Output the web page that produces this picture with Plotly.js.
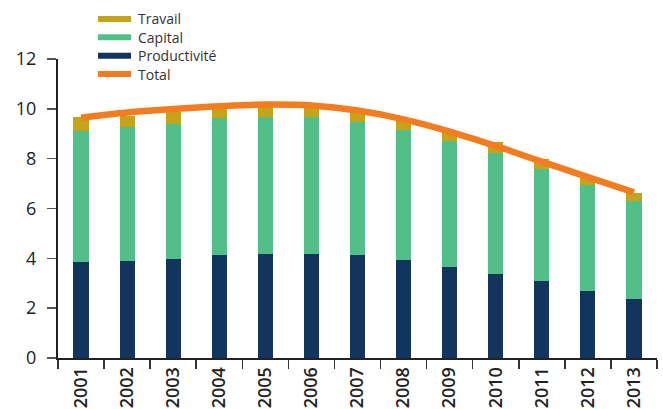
<!DOCTYPE html>
<html><head><meta charset="utf-8">
<script src="https://cdn.plot.ly/plotly-3.0.1.min.js"></script>
<style>html,body{margin:0;padding:0;background:#fff}#chart{width:663px;height:409px}</style>
</head><body><div id="chart"></div>
<script>
const years = ['2001','2002','2003','2004','2005','2006','2007','2008','2009','2010','2011','2012','2013'];
const productivite = [3.86, 3.90, 3.98, 4.14, 4.18, 4.18, 4.14, 3.94, 3.65, 3.37, 3.09, 2.69, 2.37];
const capital      = [5.26, 5.38, 5.43, 5.51, 5.50, 5.50, 5.35, 5.23, 5.06, 4.84, 4.50, 4.26, 3.94];
const travail      = [0.56, 0.44, 0.45, 0.40, 0.50, 0.45, 0.46, 0.43, 0.37, 0.46, 0.39, 0.31, 0.32];
const total        = [9.64, 9.85, 9.99, 10.10, 10.17, 10.13, 9.93, 9.58, 9.09, 8.51, 7.88, 7.26, 6.65];
const yTicks = [0, 2, 4, 6, 8, 10, 12];
const legendNames = ['Travail', 'Capital', 'Productivité', 'Total'];

const C_TRAV = '#C5A31A', C_CAP = '#52BE88', C_PROD = '#12355E', C_TOT = '#F47C20';
const legendColors = [C_TRAV, C_CAP, C_PROD, C_TOT];
const font = 'Open Sans, Liberation Sans, sans-serif';

const traces = [
  {type:'bar', x:years, y:productivite, name:'Productivité', marker:{color:C_PROD}, hoverinfo:'y'},
  {type:'bar', x:years, y:capital, name:'Capital', marker:{color:C_CAP}, hoverinfo:'y'},
  {type:'bar', x:years, y:travail, name:'Travail', marker:{color:C_TRAV}, hoverinfo:'y'},
  {type:'scatter', mode:'lines', x:years, y:total, name:'Total', line:{color:C_TOT, width:6.5, shape:'spline'}}
];

// legend drawn as paper-referenced shapes + annotations (pixel layout -> paper coords)
const M = {l:58, r:6, t:59, b:51}, W = 663, H = 409;
const pw = W - M.l - M.r, ph = H - M.t - M.b;
const px2x = p => (p - M.l) / pw;
const py2y = p => (H - M.b - p) / ph;
const rowY = [18.9, 37.3, 55.7, 74.1];
const shapes = [], annotations = [];
legendNames.forEach((n, i) => {
  shapes.push({type:'rect', xref:'paper', yref:'paper', x0:px2x(98), x1:px2x(131),
               y0:py2y(rowY[i] + 3), y1:py2y(rowY[i] - 3), line:{width:0}, fillcolor:legendColors[i]});
  annotations.push({xref:'paper', yref:'paper', x:px2x(137), y:py2y(rowY[i]), xanchor:'left', yanchor:'middle',
                    text:n, showarrow:false, borderpad:0, font:{size:14, color:'#333', family:font}});
});

const layout = {
  width:W, height:H,
  margin:M,
  paper_bgcolor:'#fff', plot_bgcolor:'#fff',
  barmode:'stack', bargap:0.67,
  font:{family:font, color:'#222'},
  showlegend:false,
  shapes:shapes, annotations:annotations,
  xaxis:{type:'category', categoryorder:'array', categoryarray:years, range:[-0.5, 12.5],
         showline:true, linecolor:'#222', linewidth:2, ticks:'outside', tickson:'boundaries',
         ticklen:9, tickwidth:1.5, tickcolor:'#333', tickangle:-90,
         tickfont:{size:18, color:'#222', family:font, weight:600}, showgrid:false, zeroline:false},
  yaxis:{range:[0,12], tickvals:yTicks, showline:true, linecolor:'#222', linewidth:2,
         ticks:'outside', ticklen:9, tickwidth:1.5, tickcolor:'#555', ticklabelstandoff:7,
         tickfont:{size:18, color:'#222', family:font}, showgrid:false, zeroline:false}
};
Plotly.newPlot('chart', traces, layout, {displayModeBar:false, staticPlot:true});
</script></body></html>
